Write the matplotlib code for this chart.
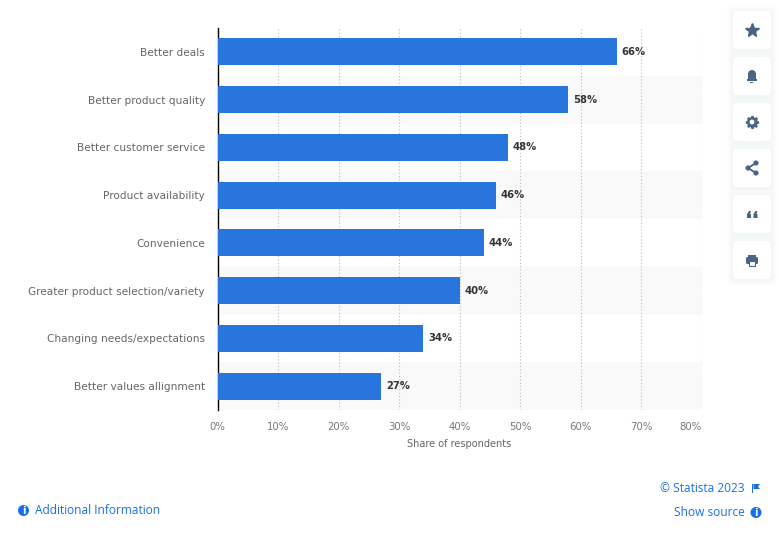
import matplotlib
matplotlib.use("Agg")
import matplotlib.pyplot as plt
from matplotlib.patches import Circle, FancyBboxPatch, Polygon, Rectangle

W, H = 779, 540

categories = [
    "Better deals",
    "Better product quality",
    "Better customer service",
    "Product availability",
    "Convenience",
    "Greater product selection/variety",
    "Changing needs/expectations",
    "Better values allignment",
]
shares = [66, 58, 48, 46, 44, 40, 34, 27]
x_ticks = [0, 10, 20, 30, 40, 50, 60, 70, 80]

BLUE = "#2876dd"
LINK = "#1a6fe8"
ICON = "#4a6486"
GREY = "#666666"

fig = plt.figure(figsize=(W / 100, H / 100), dpi=100)
ax = fig.add_axes([217.5 / W, 1 - 410 / H, (701.5 - 217.5) / W, (410 - 28) / H])

y = list(range(len(categories)))
for i in y:
    if i % 2 == 1:
        ax.axhspan(i - 0.5, i + 0.5, color="#f9f9f9", lw=0, zorder=0)
ax.barh(y, shares, height=0.565, color=BLUE, zorder=3)
for i, v in zip(y, shares):
    ax.annotate(f"{v}%", (v, i), xytext=(3.6, 0), textcoords="offset points", va="center", ha="left",
                fontsize=7.2, fontweight="bold", color="#333333", zorder=4)

ax.set_xlim(0, 80)
ax.set_ylim(7.5, -0.5)
ax.set_yticks(y, categories)
ax.set_xticks(x_ticks, [f"{t}%" for t in x_ticks])
ax.get_xticklabels()[-1].set_ha("right")
ax.tick_params(axis="y", length=0, pad=9, labelsize=7.6, labelcolor=GREY)
ax.tick_params(axis="x", length=0, pad=8.3, labelsize=7.3, labelcolor="#777777")
ax.grid(True, axis="x", linestyle=(0, (1, 2)), color="#bbbbbb", linewidth=0.8, zorder=1)
ax.set_axisbelow(True)
ax.set_xlabel("Share of respondents", fontsize=7, color=GREY, labelpad=5.5)
for side in ["top", "right", "bottom"]:
    ax.spines[side].set_visible(False)
ax.spines["left"].set_color("black")
ax.spines["left"].set_linewidth(1)

# page furniture, in pixel coordinates
top = fig.add_axes([0, 0, 1, 1], zorder=5)
top.set_xlim(0, W)
top.set_ylim(H, 0)
top.axis("off")
top.patch.set_alpha(0)

for cy in [30, 76, 122, 168, 214, 260]:
    for grow, alpha in [(6, 0.012), (4, 0.018), (2, 0.025)]:
        top.add_patch(FancyBboxPatch((733 - grow, cy - 19 - grow + 1), 38 + 2 * grow, 38 + 2 * grow,
                                     boxstyle="round,pad=0,rounding_size=6", fc="#4a6486", ec="none", alpha=alpha))
    top.add_patch(FancyBboxPatch((733, cy - 19), 38, 38, boxstyle="round,pad=0,rounding_size=4",
                                 fc="white", ec="none"))

cx = 752
# star
top.plot([cx], [30], marker="*", ms=10, color=ICON, mec=ICON)
# bell
top.add_patch(Circle((cx, 74), 4, fc=ICON, ec="none"))
top.add_patch(Rectangle((cx - 4, 74), 8, 6, fc=ICON, ec="none"))
top.add_patch(Rectangle((cx - 5, 79), 10, 2, fc=ICON, ec="none"))
top.add_patch(Rectangle((cx - 1.5, 81.5), 3, 1, fc=ICON, ec="none"))
# gear
top.plot([cx], [122], marker=(8, 1, 0), ms=9, mew=1.6, color=ICON, mec=ICON)
top.add_patch(Circle((cx, 122), 4.8, fc=ICON, ec="none", zorder=3))
top.add_patch(Circle((cx, 122), 2.4, fc="white", ec="none", zorder=4))
# share
top.plot([cx + 4, cx - 4, cx + 4], [163, 168, 173], color=ICON, lw=1.3)
for sx, sy in [(cx + 4, 163), (cx - 4, 168), (cx + 4, 173)]:
    top.add_patch(Circle((sx, sy), 2.6, fc=ICON, ec="none", zorder=4))
# quotes
for qx in [cx - 5, cx + 1.5]:
    top.add_patch(Polygon([(qx, 214), (qx + 2, 211), (qx + 4, 211), (qx + 3, 214), (qx + 4, 214),
                           (qx + 4, 218), (qx, 218)], fc=ICON, ec="none"))
# printer
top.add_patch(FancyBboxPatch((cx - 6, 257), 12, 7, boxstyle="round,pad=0,rounding_size=1.5", fc=ICON, ec="none"))
top.add_patch(Rectangle((cx - 4, 254.5), 8, 3, fc=ICON, ec="none"))
top.add_patch(Rectangle((cx - 3.2, 261), 6.4, 4.5, fc="white", ec=ICON, lw=0.8, zorder=4))

link_font = ["Open Sans", "DejaVu Sans"]


def info_icon(x, y):
    top.add_patch(Circle((x, y), 5.5, fc=LINK, ec="none"))
    top.text(x, y + 0.3, "i", color="white", fontsize=7, fontweight="bold", ha="center", va="center")


info_icon(23.5, 510.5)
top.text(35, 510.5, "Additional Information", color=LINK, fontsize=8.6, family=link_font, va="center")
top.text(745, 488, "© Statista 2023", color=LINK, fontsize=8.6, family=link_font, va="center", ha="right")
top.text(745, 512.5, "Show source", color=LINK, fontsize=8.6, family=link_font, va="center", ha="right")
info_icon(756, 512.5)
# flag
top.add_patch(Rectangle((752.5, 484), 1, 9, fc=LINK, ec="none"))
top.add_patch(Polygon([(753.5, 484), (760, 484), (758, 486.5), (760, 489), (753.5, 489)], fc=LINK, ec="none"))

fig.savefig("out.png", dpi=100)
